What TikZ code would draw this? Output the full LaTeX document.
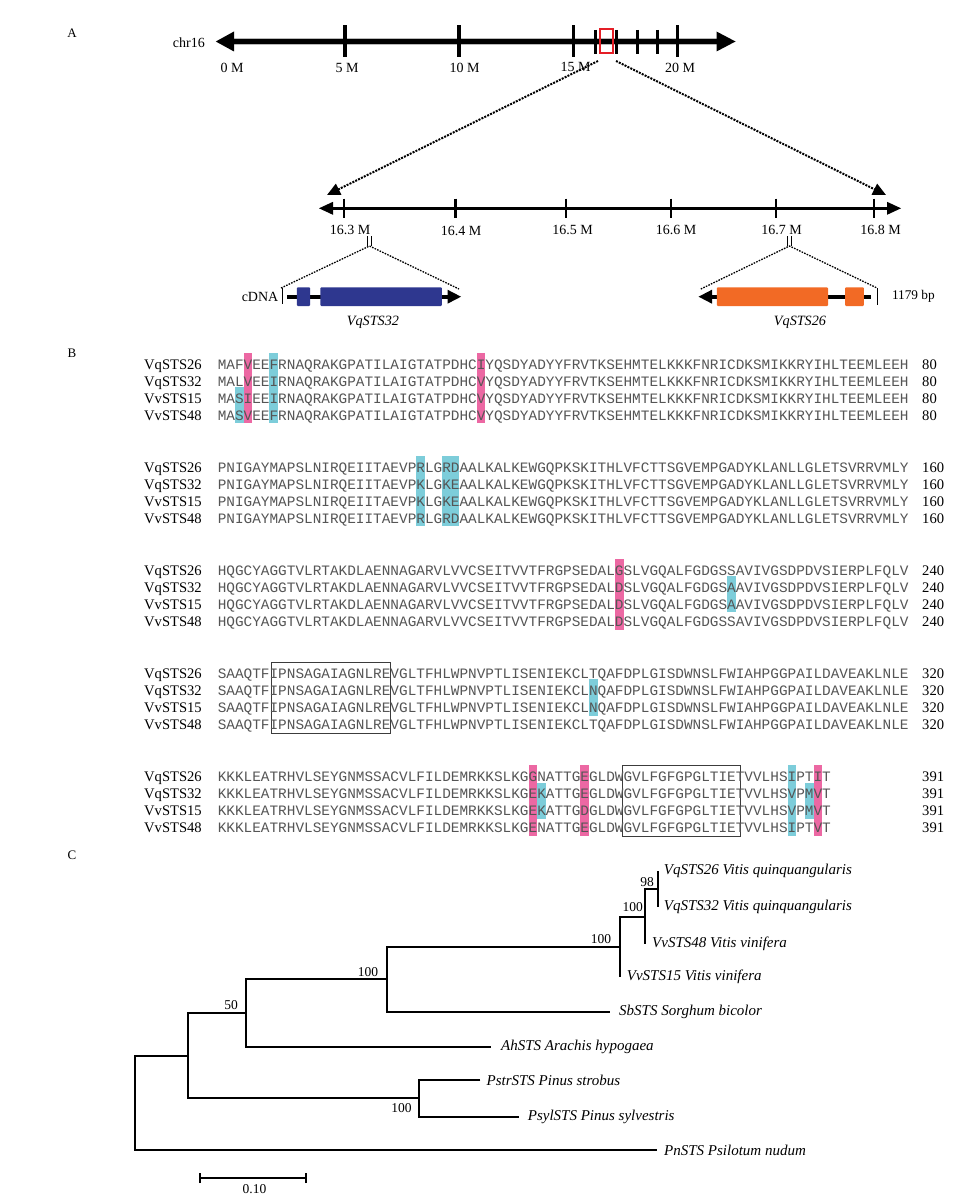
\documentclass[tikz,border=0pt]{standalone}
\usepackage{fontspec}
\setmainfont{Liberation Serif}
\newfontfamily\seqfont{Liberation Mono}
\usetikzlibrary{arrows.meta}
\definecolor{hlcyan}{RGB}{125,205,218}
\definecolor{hlpink}{RGB}{236,104,163}
\definecolor{geneblue}{RGB}{46,55,143}
\definecolor{geneorange}{RGB}{242,106,37}
\definecolor{seqgray}{RGB}{85,85,85}
\definecolor{boxred}{RGB}{228,30,38}
\definecolor{boxgray}{RGB}{60,60,60}
\newcommand{\hlbox}[5]{%
  \pgfmathsetmacro{\hx}{217.6+#3*8.637}%
  \pgfmathsetmacro{\hyt}{369+103.1*#2+17.1*#4-16}%
  \pgfmathsetmacro{\hyb}{369+103.1*#2+17.1*#5+3}%
  \fill[#1] (\hx,\hyt) rectangle (\hx+8.637,\hyb);%
}
\begin{document}
\begin{tikzpicture}[x=1pt,y=-1pt,
  lab/.style={inner sep=0pt,font=\fontsize{14}{16}\selectfont},
  panel/.style={inner sep=0pt,font=\fontsize{13}{15}\selectfont},
  seqname/.style={anchor=base west,inner sep=0pt,font=\fontsize{14.6}{16}\selectfont},
  seqtxt/.style={anchor=base west,inner sep=0pt,text=seqgray,font=\seqfont\fontsize{14.39}{16}\selectfont},
  leaf/.style={anchor=west,inner sep=0pt,font=\fontsize{15}{17}\selectfont\itshape},
  boot/.style={inner sep=0pt,font=\fontsize{13.5}{15}\selectfont},
  branch/.style={line width=2pt},
  dotline/.style={line width=2pt,dash pattern=on 2pt off 1.2pt},
  thindot/.style={line width=1.3pt,dash pattern=on 1.6pt off 1.2pt}]
\useasboundingbox (0,0) rectangle (976,1201);
\fill[white] (0,0) rectangle (976,1201);

% ---------------- Panel A ----------------
\node[panel] (pA) at (72,33) {A};
\node[lab,anchor=east] (chr) at (205,43) {chr16};
\draw[gray!55,line width=7.5pt] (233,41.5) -- (717,41.5);
\draw[line width=5pt] (233,41.5) -- (717,41.5);
\fill (215.8,41.5) -- (234,31.5) -- (234,51.5) -- cycle;
\fill (735.5,41.5) -- (716.5,31.5) -- (716.5,51.5) -- cycle;
\foreach \x in {345.2,459.2,573.6,677.4} \draw[line width=3.5pt] (\x,25.5) -- (\x,57.5);
\foreach \x in {595.8,616.3,637.2,657.1} \draw[line width=2.8pt] (\x,30) -- (\x,54);
\draw[boxred,line width=2pt] (600.2,29.5) rectangle (613.2,53.5);
\node[lab] (m0) at (232,68) {0 M};
\node[lab] (m5) at (347,68) {5 M};
\node[lab] (m10) at (464.6,68) {10 M};
\node[lab] (m15) at (575.6,67) {15 M};
\node[lab] (m20) at (680,68) {20 M};
\coordinate (zl) at (598,61);
\coordinate (zr) at (616,61);
\coordinate (tl) at (327,195);
\coordinate (tr) at (886,195);
\draw[dotline,-{Triangle[length=13pt,width=12pt]}] (zl) -- (tl);
\draw[dotline,-{Triangle[length=13pt,width=12pt]}] (zr) -- (tr);

% lower axis
\draw[line width=3.5pt] (331,208.3) -- (889,208.3);
\fill (319,208.3) -- (333,201.8) -- (333,214.8) -- cycle;
\fill (901,208.3) -- (887,201.8) -- (887,214.8) -- cycle;
\foreach \x in {344.1,455.7,566,670.9,775.8,874} \draw[line width=2.5pt] (\x,198.5) -- (\x,217.5);
\node[lab] (a1) at (350,229.5) {16.3 M};
\node[lab] (a2) at (461,231) {16.4 M};
\node[lab] (a3) at (572.7,229.5) {16.5 M};
\node[lab] (a4) at (676,229.5) {16.6 M};
\node[lab] (a5) at (781.6,229.5) {16.7 M};
\node[lab] (a6) at (880.7,229.5) {16.8 M};

% zoom to genes
\draw[line width=0.8pt] (367.3,236) -- (367.3,246) (371.8,236) -- (371.8,246);
\draw[line width=0.8pt] (787.3,236) -- (787.3,246) (791.8,236) -- (791.8,246);
\coordinate (ap1) at (369.5,246);
\coordinate (ap2) at (789.5,246);
\coordinate (g1l) at (281,288);
\coordinate (g1r) at (459,289);
\coordinate (g2l) at (700.8,289);
\coordinate (g2r) at (877,288);
\draw[thindot] (g1l) -- (ap1) -- (g1r);
\draw[thindot] (g2l) -- (ap2) -- (g2r);

% gene 1
\draw[line width=0.8pt] (282.5,287.5) -- (282.5,304);
\draw[line width=4pt] (287,296.7) -- (449,296.7);
\fill (461,296.7) -- (447.5,289.7) -- (447.5,303.7) -- cycle;
\fill[geneblue,rounded corners=1pt] (296.8,287.3) rectangle (310.2,306);
\fill[geneblue,rounded corners=1pt] (320.4,287.3) rectangle (441.9,306);
\node[lab,anchor=east] (cdna) at (278.5,296.7) {cDNA};
\node[lab,font=\fontsize{14.2}{16}\selectfont\itshape] (g1name) at (373,322) {VqSTS32};

% gene 2
\draw[line width=4pt] (710,296.7) -- (871,296.7);
\fill (698.6,296.7) -- (712,289.7) -- (712,303.7) -- cycle;
\fill[geneorange,rounded corners=1pt] (716.9,287.3) rectangle (828,306);
\fill[geneorange,rounded corners=1pt] (845,287.3) rectangle (863.8,306);
\draw[line width=0.8pt] (877,288) -- (877,305);
\node[lab,anchor=west,font=\fontsize{13.3}{15}\selectfont] (bp) at (891.8,296.7) {1179 bp};
\node[lab,font=\fontsize{14.2}{16}\selectfont\itshape] (g2name) at (800,322) {VqSTS26};

% ---------------- Panel B ----------------
\node[panel] (pB) at (72,353) {B};
% highlights
\hlbox{hlpink}{0}{3}{0}{3}
\hlbox{hlcyan}{0}{6}{0}{3}
\hlbox{hlcyan}{0}{2}{2}{3}
\hlbox{hlpink}{0}{30}{0}{3}
\hlbox{hlcyan}{1}{23}{0}{3}
\hlbox{hlcyan}{1}{26}{0}{3}
\hlbox{hlcyan}{1}{27}{0}{3}
\hlbox{hlpink}{2}{46}{0}{3}
\hlbox{hlcyan}{2}{59}{1}{2}
\hlbox{hlcyan}{3}{43}{1}{2}
\hlbox{hlpink}{4}{36}{0}{3}
\hlbox{hlcyan}{4}{37}{1}{2}
\hlbox{hlpink}{4}{42}{0}{3}
\hlbox{hlcyan}{4}{66}{0}{3}
\hlbox{hlcyan}{4}{68}{1}{2}
\hlbox{hlpink}{4}{69}{0}{3}
% boxes
\draw[boxgray,line width=1pt] (271,662.8) rectangle (390,733.1);
\draw[boxgray,line width=1pt] (622,765.9) rectangle (740,836.2);

% block 1
\node[seqname] (b1n1) at (144,369) {VqSTS26};
\node[seqname] (b1n2) at (144,386.1) {VqSTS32};
\node[seqname] (b1n3) at (144,403.2) {VvSTS15};
\node[seqname] (b1n4) at (144,420.3) {VvSTS48};
\node[seqtxt] (b1s1) at (217.6,369) {MAFVEEFRNAQRAKGPATILAIGTATPDHCIYQSDYADYYFRVTKSEHMTELKKKFNRICDKSMIKKRYIHLTEEMLEEH};
\node[seqtxt] (b1s2) at (217.6,386.1) {MALVEEIRNAQRAKGPATILAIGTATPDHCVYQSDYADYYFRVTKSEHMTELKKKFNRICDKSMIKKRYIHLTEEMLEEH};
\node[seqtxt] (b1s3) at (217.6,403.2) {MASIEEIRNAQRAKGPATILAIGTATPDHCVYQSDYADYYFRVTKSEHMTELKKKFNRICDKSMIKKRYIHLTEEMLEEH};
\node[seqtxt] (b1s4) at (217.6,420.3) {MASVEEFRNAQRAKGPATILAIGTATPDHCVYQSDYADYYFRVTKSEHMTELKKKFNRICDKSMIKKRYIHLTEEMLEEH};
\node[seqname] (b1c1) at (922,369) {80};
\node[seqname] (b1c2) at (922,386.1) {80};
\node[seqname] (b1c3) at (922,403.2) {80};
\node[seqname] (b1c4) at (922,420.3) {80};

% block 2
\node[seqname] (b2n1) at (144,472.1) {VqSTS26};
\node[seqname] (b2n2) at (144,489.2) {VqSTS32};
\node[seqname] (b2n3) at (144,506.3) {VvSTS15};
\node[seqname] (b2n4) at (144,523.4) {VvSTS48};
\node[seqtxt] (b2s1) at (217.6,472.1) {PNIGAYMAPSLNIRQEIITAEVPRLGRDAALKALKEWGQPKSKITHLVFCTTSGVEMPGADYKLANLLGLETSVRRVMLY};
\node[seqtxt] (b2s2) at (217.6,489.2) {PNIGAYMAPSLNIRQEIITAEVPKLGKEAALKALKEWGQPKSKITHLVFCTTSGVEMPGADYKLANLLGLETSVRRVMLY};
\node[seqtxt] (b2s3) at (217.6,506.3) {PNIGAYMAPSLNIRQEIITAEVPKLGKEAALKALKEWGQPKSKITHLVFCTTSGVEMPGADYKLANLLGLETSVRRVMLY};
\node[seqtxt] (b2s4) at (217.6,523.4) {PNIGAYMAPSLNIRQEIITAEVPRLGRDAALKALKEWGQPKSKITHLVFCTTSGVEMPGADYKLANLLGLETSVRRVMLY};
\node[seqname] (b2c1) at (922,472.1) {160};
\node[seqname] (b2c2) at (922,489.2) {160};
\node[seqname] (b2c3) at (922,506.3) {160};
\node[seqname] (b2c4) at (922,523.4) {160};

% block 3
\node[seqname] (b3n1) at (144,575.2) {VqSTS26};
\node[seqname] (b3n2) at (144,592.3) {VqSTS32};
\node[seqname] (b3n3) at (144,609.4) {VvSTS15};
\node[seqname] (b3n4) at (144,626.5) {VvSTS48};
\node[seqtxt] (b3s1) at (217.6,575.2) {HQGCYAGGTVLRTAKDLAENNAGARVLVVCSEITVVTFRGPSEDALGSLVGQALFGDGSSAVIVGSDPDVSIERPLFQLV};
\node[seqtxt] (b3s2) at (217.6,592.3) {HQGCYAGGTVLRTAKDLAENNAGARVLVVCSEITVVTFRGPSEDALDSLVGQALFGDGSAAVIVGSDPDVSIERPLFQLV};
\node[seqtxt] (b3s3) at (217.6,609.4) {HQGCYAGGTVLRTAKDLAENNAGARVLVVCSEITVVTFRGPSEDALDSLVGQALFGDGSAAVIVGSDPDVSIERPLFQLV};
\node[seqtxt] (b3s4) at (217.6,626.5) {HQGCYAGGTVLRTAKDLAENNAGARVLVVCSEITVVTFRGPSEDALDSLVGQALFGDGSSAVIVGSDPDVSIERPLFQLV};
\node[seqname] (b3c1) at (922,575.2) {240};
\node[seqname] (b3c2) at (922,592.3) {240};
\node[seqname] (b3c3) at (922,609.4) {240};
\node[seqname] (b3c4) at (922,626.5) {240};

% block 4
\node[seqname] (b4n1) at (144,678.3) {VqSTS26};
\node[seqname] (b4n2) at (144,695.4) {VqSTS32};
\node[seqname] (b4n3) at (144,712.5) {VvSTS15};
\node[seqname] (b4n4) at (144,729.6) {VvSTS48};
\node[seqtxt] (b4s1) at (217.6,678.3) {SAAQTFIPNSAGAIAGNLREVGLTFHLWPNVPTLISENIEKCLTQAFDPLGISDWNSLFWIAHPGGPAILDAVEAKLNLE};
\node[seqtxt] (b4s2) at (217.6,695.4) {SAAQTFIPNSAGAIAGNLREVGLTFHLWPNVPTLISENIEKCLNQAFDPLGISDWNSLFWIAHPGGPAILDAVEAKLNLE};
\node[seqtxt] (b4s3) at (217.6,712.5) {SAAQTFIPNSAGAIAGNLREVGLTFHLWPNVPTLISENIEKCLNQAFDPLGISDWNSLFWIAHPGGPAILDAVEAKLNLE};
\node[seqtxt] (b4s4) at (217.6,729.6) {SAAQTFIPNSAGAIAGNLREVGLTFHLWPNVPTLISENIEKCLTQAFDPLGISDWNSLFWIAHPGGPAILDAVEAKLNLE};
\node[seqname] (b4c1) at (922,678.3) {320};
\node[seqname] (b4c2) at (922,695.4) {320};
\node[seqname] (b4c3) at (922,712.5) {320};
\node[seqname] (b4c4) at (922,729.6) {320};

% block 5
\node[seqname] (b5n1) at (144,781.4) {VqSTS26};
\node[seqname] (b5n2) at (144,798.5) {VqSTS32};
\node[seqname] (b5n3) at (144,815.6) {VvSTS15};
\node[seqname] (b5n4) at (144,832.7) {VvSTS48};
\node[seqtxt] (b5s1) at (217.6,781.4) {KKKLEATRHVLSEYGNMSSACVLFILDEMRKKSLKGGNATTGEGLDWGVLFGFGPGLTIETVVLHSIPTIT};
\node[seqtxt] (b5s2) at (217.6,798.5) {KKKLEATRHVLSEYGNMSSACVLFILDEMRKKSLKGEKATTGEGLDWGVLFGFGPGLTIETVVLHSVPMVT};
\node[seqtxt] (b5s3) at (217.6,815.6) {KKKLEATRHVLSEYGNMSSACVLFILDEMRKKSLKGEKATTGDGLDWGVLFGFGPGLTIETVVLHSVPMVT};
\node[seqtxt] (b5s4) at (217.6,832.7) {KKKLEATRHVLSEYGNMSSACVLFILDEMRKKSLKGENATTGEGLDWGVLFGFGPGLTIETVVLHSIPTVT};
\node[seqname] (b5c1) at (922,781.4) {391};
\node[seqname] (b5c2) at (922,798.5) {391};
\node[seqname] (b5c3) at (922,815.6) {391};
\node[seqname] (b5c4) at (922,832.7) {391};

% ---------------- Panel C ----------------
\node[panel] (pC) at (72,855) {C};
\node[leaf] (l1) at (663.7,871) {VqSTS26 Vitis quinquangularis};
\node[leaf] (l2) at (663.7,907) {VqSTS32 Vitis quinquangularis};
\node[leaf] (l3) at (652,944) {VvSTS48 Vitis vinifera};
\node[leaf] (l4) at (626.7,977) {VvSTS15 Vitis vinifera};
\node[leaf] (l5) at (619,1011.7) {SbSTS Sorghum bicolor};
\node[leaf] (l6) at (501,1046.7) {AhSTS Arachis hypogaea};
\node[leaf] (l7) at (486.4,1080) {PstrSTS Pinus strobus};
\node[leaf] (l8) at (527.7,1116.7) {PsylSTS Pinus sylvestris};
\node[leaf] (l9) at (664,1150) {PnSTS Psilotum nudum};
\coordinate (e1) at (658,871);
\coordinate (e2) at (658,907);
\coordinate (e3) at (644.5,944);
\coordinate (e4) at (620,977);
\coordinate (e5) at (610,1011.7);
\coordinate (e6) at (491,1046.7);
\coordinate (e7) at (480.4,1080);
\coordinate (e8) at (519.4,1116.7);
\coordinate (e9) at (657.2,1150);
\coordinate (n98) at (658,889);
\coordinate (n100b) at (644.5,916.5);
\coordinate (n100a) at (620,946.75);
\coordinate (n100c) at (387,979.2);
\coordinate (n50) at (246.3,1013);
\coordinate (nX) at (188,1055.6);
\coordinate (nP) at (419,1098.3);
\coordinate (root) at (135,1103);
\draw[branch] (e1) -- (e2);
\draw[branch] (n98) -| (n100b) |- (e3);
\draw[branch] (n100b) -| (n100a) |- (e4);
\draw[branch] (n100a) -| (n100c) |- (e5);
\draw[branch] (n100c) -| (n50) |- (e6);
\draw[branch] (n50) -| (nX) |- (nP);
\draw[branch] (e7) -| (nP) |- (e8);
\draw[branch] (nX) -| (root) |- (e9);
\node[boot] (bs98) at (647,882) {98};
\node[boot,anchor=east] (bs100b) at (643,907) {100};
\node[boot] (bs100a) at (601,939) {100};
\node[boot] (bs100c) at (368,972) {100};
\node[boot] (bs50) at (231,1005) {50};
\node[boot] (bs100p) at (401.6,1108) {100};
% scale bar
\coordinate (sb1) at (200.3,1178);
\coordinate (sb2) at (306,1178);
\draw[branch] (sb1) -- (sb2);
\draw[branch] ([yshift=-5pt]sb1) -- ([yshift=5pt]sb1);
\draw[branch] ([yshift=-5pt]sb2) -- ([yshift=5pt]sb2);
\node[boot] (sbl) at (254.5,1189) {0.10};
\end{tikzpicture}
\end{document}
